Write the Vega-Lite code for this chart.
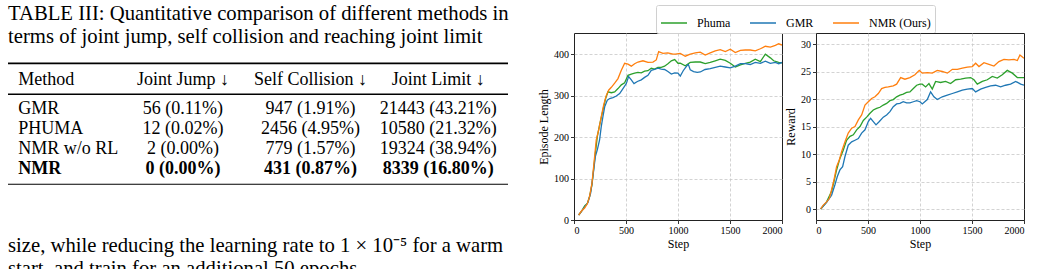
{
  "$schema": "https://vega.github.io/schema/vega-lite/v6.json",
  "background": "white",
  "padding": {"left": 7, "top": 0, "right": 0, "bottom": 0},
  "config": {
    "font": "Liberation Serif",
    "view": {"stroke": "#222222", "strokeWidth": 1},
    "axis": {
      "domain": false,
      "grid": true,
      "gridColor": "#c8c8c8",
      "gridDash": [3, 2],
      "gridWidth": 0.8,
      "ticks": true,
      "tickSize": 3.5,
      "tickColor": "#000000",
      "tickWidth": 0.8,
      "labelFont": "Liberation Serif",
      "labelFontSize": 10,
      "labelColor": "#000000",
      "labelPadding": 2,
      "titleFont": "Liberation Serif",
      "titleFontSize": 12,
      "titleFontWeight": "normal",
      "titleColor": "#000000",
      "titlePadding": 3
    }
  },
  "datasets": {
    "table": [
      {"method": "GMR", "row": 1, "jump": "56 (0.11%)", "collision": "947 (1.91%)", "limit": "21443 (43.21%)"},
      {"method": "PHUMA", "row": 2, "jump": "12 (0.02%)", "collision": "2456 (4.95%)", "limit": "10580 (21.32%)"},
      {"method": "NMR w/o RL", "row": 3, "jump": "2 (0.00%)", "collision": "779 (1.57%)", "limit": "19324 (38.94%)"},
      {"method": "NMR", "row": 4, "jump": "0 (0.00%)", "collision": "431 (0.87%)", "limit": "8339 (16.80%)"}
    ],
    "header": [
      {"col": "method", "label": "Method"},
      {"col": "jump", "label": "Joint Jump ↓"},
      {"col": "collision", "label": "Self Collision ↓"},
      {"col": "limit", "label": "Joint Limit ↓"}
    ],
    "rules": [
      {"rule": "top", "row": -1.55},
      {"rule": "mid", "row": 0},
      {"rule": "bottom", "row": 4.5}
    ],
    "prose": [
      {"row": -3.715, "text": "TABLE III: Quantitative comparison of different methods in"},
      {"row": -2.55, "text": "terms of joint jump, self collision and reaching joint limit"},
      {"row": 7.87, "text": "size, while reducing the learning rate to 1 × 10⁻⁵ for a warm"},
      {"row": 9.035, "text": "start, and train for an additional 50 epochs."}
    ],
    "episode": [
      {"method": "Phuma", "step": 45, "length": 12}, {"method": "Phuma", "step": 70, "length": 20}, {"method": "Phuma", "step": 102, "length": 34},
      {"method": "Phuma", "step": 128, "length": 40}, {"method": "Phuma", "step": 150, "length": 57}, {"method": "Phuma", "step": 173, "length": 85},
      {"method": "Phuma", "step": 198, "length": 145}, {"method": "Phuma", "step": 224, "length": 201}, {"method": "Phuma", "step": 246, "length": 229},
      {"method": "Phuma", "step": 278, "length": 265}, {"method": "Phuma", "step": 304, "length": 293}, {"method": "Phuma", "step": 327, "length": 309},
      {"method": "Phuma", "step": 359, "length": 307}, {"method": "Phuma", "step": 391, "length": 309}, {"method": "Phuma", "step": 423, "length": 317},
      {"method": "Phuma", "step": 455, "length": 326}, {"method": "Phuma", "step": 487, "length": 331}, {"method": "Phuma", "step": 519, "length": 349},
      {"method": "Phuma", "step": 551, "length": 352}, {"method": "Phuma", "step": 583, "length": 354}, {"method": "Phuma", "step": 615, "length": 356},
      {"method": "Phuma", "step": 647, "length": 355}, {"method": "Phuma", "step": 679, "length": 359}, {"method": "Phuma", "step": 711, "length": 360},
      {"method": "Phuma", "step": 743, "length": 366}, {"method": "Phuma", "step": 775, "length": 364}, {"method": "Phuma", "step": 807, "length": 368},
      {"method": "Phuma", "step": 839, "length": 368}, {"method": "Phuma", "step": 871, "length": 371}, {"method": "Phuma", "step": 903, "length": 377},
      {"method": "Phuma", "step": 936, "length": 384}, {"method": "Phuma", "step": 968, "length": 387}, {"method": "Phuma", "step": 1000, "length": 378},
      {"method": "Phuma", "step": 1022, "length": 378}, {"method": "Phuma", "step": 1070, "length": 372}, {"method": "Phuma", "step": 1118, "length": 380},
      {"method": "Phuma", "step": 1166, "length": 381}, {"method": "Phuma", "step": 1214, "length": 381}, {"method": "Phuma", "step": 1262, "length": 377},
      {"method": "Phuma", "step": 1310, "length": 380}, {"method": "Phuma", "step": 1358, "length": 384}, {"method": "Phuma", "step": 1406, "length": 388},
      {"method": "Phuma", "step": 1455, "length": 385}, {"method": "Phuma", "step": 1503, "length": 378}, {"method": "Phuma", "step": 1551, "length": 369},
      {"method": "Phuma", "step": 1600, "length": 374}, {"method": "Phuma", "step": 1647, "length": 378}, {"method": "Phuma", "step": 1695, "length": 381},
      {"method": "Phuma", "step": 1743, "length": 388}, {"method": "Phuma", "step": 1792, "length": 382}, {"method": "Phuma", "step": 1840, "length": 400},
      {"method": "Phuma", "step": 1888, "length": 391}, {"method": "Phuma", "step": 1920, "length": 384}, {"method": "Phuma", "step": 1968, "length": 380},
      {"method": "Phuma", "step": 2000, "length": 379},
      {"method": "GMR", "step": 45, "length": 12}, {"method": "GMR", "step": 70, "length": 20}, {"method": "GMR", "step": 102, "length": 31},
      {"method": "GMR", "step": 134, "length": 42}, {"method": "GMR", "step": 160, "length": 65}, {"method": "GMR", "step": 182, "length": 105},
      {"method": "GMR", "step": 205, "length": 153}, {"method": "GMR", "step": 224, "length": 169}, {"method": "GMR", "step": 246, "length": 193},
      {"method": "GMR", "step": 262, "length": 225}, {"method": "GMR", "step": 278, "length": 249}, {"method": "GMR", "step": 295, "length": 273},
      {"method": "GMR", "step": 320, "length": 289}, {"method": "GMR", "step": 343, "length": 293}, {"method": "GMR", "step": 375, "length": 295},
      {"method": "GMR", "step": 407, "length": 299}, {"method": "GMR", "step": 439, "length": 305}, {"method": "GMR", "step": 471, "length": 317},
      {"method": "GMR", "step": 503, "length": 329}, {"method": "GMR", "step": 525, "length": 346}, {"method": "GMR", "step": 551, "length": 338},
      {"method": "GMR", "step": 577, "length": 329}, {"method": "GMR", "step": 609, "length": 334}, {"method": "GMR", "step": 647, "length": 338},
      {"method": "GMR", "step": 679, "length": 344}, {"method": "GMR", "step": 711, "length": 349}, {"method": "GMR", "step": 743, "length": 361},
      {"method": "GMR", "step": 775, "length": 363}, {"method": "GMR", "step": 807, "length": 366}, {"method": "GMR", "step": 839, "length": 364},
      {"method": "GMR", "step": 871, "length": 363}, {"method": "GMR", "step": 903, "length": 358}, {"method": "GMR", "step": 936, "length": 352},
      {"method": "GMR", "step": 968, "length": 355}, {"method": "GMR", "step": 1000, "length": 354}, {"method": "GMR", "step": 1022, "length": 347},
      {"method": "GMR", "step": 1050, "length": 360}, {"method": "GMR", "step": 1085, "length": 372}, {"method": "GMR", "step": 1100, "length": 375},
      {"method": "GMR", "step": 1118, "length": 362}, {"method": "GMR", "step": 1150, "length": 358}, {"method": "GMR", "step": 1185, "length": 356},
      {"method": "GMR", "step": 1215, "length": 357}, {"method": "GMR", "step": 1260, "length": 363}, {"method": "GMR", "step": 1310, "length": 365},
      {"method": "GMR", "step": 1358, "length": 368}, {"method": "GMR", "step": 1406, "length": 371}, {"method": "GMR", "step": 1455, "length": 369},
      {"method": "GMR", "step": 1503, "length": 367}, {"method": "GMR", "step": 1551, "length": 371}, {"method": "GMR", "step": 1600, "length": 377},
      {"method": "GMR", "step": 1647, "length": 377}, {"method": "GMR", "step": 1695, "length": 375}, {"method": "GMR", "step": 1743, "length": 380},
      {"method": "GMR", "step": 1792, "length": 378}, {"method": "GMR", "step": 1840, "length": 383}, {"method": "GMR", "step": 1888, "length": 378},
      {"method": "GMR", "step": 1936, "length": 380}, {"method": "GMR", "step": 1968, "length": 377}, {"method": "GMR", "step": 2000, "length": 380},
      {"method": "NMR (Ours)", "step": 45, "length": 12}, {"method": "NMR (Ours)", "step": 70, "length": 21}, {"method": "NMR (Ours)", "step": 102, "length": 29},
      {"method": "NMR (Ours)", "step": 128, "length": 39}, {"method": "NMR (Ours)", "step": 150, "length": 57}, {"method": "NMR (Ours)", "step": 173, "length": 89},
      {"method": "NMR (Ours)", "step": 192, "length": 137}, {"method": "NMR (Ours)", "step": 214, "length": 193}, {"method": "NMR (Ours)", "step": 237, "length": 217},
      {"method": "NMR (Ours)", "step": 262, "length": 249}, {"method": "NMR (Ours)", "step": 285, "length": 277}, {"method": "NMR (Ours)", "step": 310, "length": 300},
      {"method": "NMR (Ours)", "step": 333, "length": 313}, {"method": "NMR (Ours)", "step": 359, "length": 320}, {"method": "NMR (Ours)", "step": 391, "length": 330},
      {"method": "NMR (Ours)", "step": 423, "length": 341}, {"method": "NMR (Ours)", "step": 455, "length": 361}, {"method": "NMR (Ours)", "step": 487, "length": 378},
      {"method": "NMR (Ours)", "step": 519, "length": 376}, {"method": "NMR (Ours)", "step": 551, "length": 371}, {"method": "NMR (Ours)", "step": 583, "length": 377},
      {"method": "NMR (Ours)", "step": 615, "length": 381}, {"method": "NMR (Ours)", "step": 663, "length": 384}, {"method": "NMR (Ours)", "step": 711, "length": 380},
      {"method": "NMR (Ours)", "step": 759, "length": 381}, {"method": "NMR (Ours)", "step": 791, "length": 386}, {"method": "NMR (Ours)", "step": 814, "length": 406},
      {"method": "NMR (Ours)", "step": 855, "length": 402}, {"method": "NMR (Ours)", "step": 903, "length": 403}, {"method": "NMR (Ours)", "step": 951, "length": 400},
      {"method": "NMR (Ours)", "step": 974, "length": 400}, {"method": "NMR (Ours)", "step": 1022, "length": 402}, {"method": "NMR (Ours)", "step": 1070, "length": 395},
      {"method": "NMR (Ours)", "step": 1118, "length": 400}, {"method": "NMR (Ours)", "step": 1166, "length": 403}, {"method": "NMR (Ours)", "step": 1214, "length": 405},
      {"method": "NMR (Ours)", "step": 1262, "length": 398}, {"method": "NMR (Ours)", "step": 1310, "length": 403}, {"method": "NMR (Ours)", "step": 1358, "length": 408},
      {"method": "NMR (Ours)", "step": 1406, "length": 411}, {"method": "NMR (Ours)", "step": 1455, "length": 406}, {"method": "NMR (Ours)", "step": 1503, "length": 412},
      {"method": "NMR (Ours)", "step": 1551, "length": 404}, {"method": "NMR (Ours)", "step": 1600, "length": 409}, {"method": "NMR (Ours)", "step": 1647, "length": 410},
      {"method": "NMR (Ours)", "step": 1695, "length": 410}, {"method": "NMR (Ours)", "step": 1743, "length": 408}, {"method": "NMR (Ours)", "step": 1792, "length": 413},
      {"method": "NMR (Ours)", "step": 1840, "length": 419}, {"method": "NMR (Ours)", "step": 1888, "length": 417}, {"method": "NMR (Ours)", "step": 1936, "length": 421},
      {"method": "NMR (Ours)", "step": 1968, "length": 425}, {"method": "NMR (Ours)", "step": 2000, "length": 422}
    ],
    "reward": [
      {"method": "Phuma", "step": 45, "reward": 0}, {"method": "Phuma", "step": 102, "reward": 1.3}, {"method": "Phuma", "step": 150, "reward": 3.2},
      {"method": "Phuma", "step": 173, "reward": 5.0}, {"method": "Phuma", "step": 198, "reward": 7.1}, {"method": "Phuma", "step": 230, "reward": 9.2},
      {"method": "Phuma", "step": 262, "reward": 10.7}, {"method": "Phuma", "step": 294, "reward": 12.5}, {"method": "Phuma", "step": 327, "reward": 13.2},
      {"method": "Phuma", "step": 359, "reward": 13.5}, {"method": "Phuma", "step": 391, "reward": 14.4}, {"method": "Phuma", "step": 423, "reward": 15.0},
      {"method": "Phuma", "step": 455, "reward": 16.1}, {"method": "Phuma", "step": 487, "reward": 16.7}, {"method": "Phuma", "step": 519, "reward": 17.4},
      {"method": "Phuma", "step": 551, "reward": 18.0}, {"method": "Phuma", "step": 583, "reward": 18.3}, {"method": "Phuma", "step": 615, "reward": 18.5},
      {"method": "Phuma", "step": 647, "reward": 18.9}, {"method": "Phuma", "step": 679, "reward": 19.2}, {"method": "Phuma", "step": 711, "reward": 19.7},
      {"method": "Phuma", "step": 743, "reward": 19.9}, {"method": "Phuma", "step": 775, "reward": 20.4}, {"method": "Phuma", "step": 807, "reward": 20.7},
      {"method": "Phuma", "step": 839, "reward": 20.9}, {"method": "Phuma", "step": 871, "reward": 21.2}, {"method": "Phuma", "step": 903, "reward": 21.3},
      {"method": "Phuma", "step": 936, "reward": 21.9}, {"method": "Phuma", "step": 968, "reward": 22.5}, {"method": "Phuma", "step": 1000, "reward": 22.7},
      {"method": "Phuma", "step": 1022, "reward": 22.7}, {"method": "Phuma", "step": 1054, "reward": 22.2}, {"method": "Phuma", "step": 1086, "reward": 22.8},
      {"method": "Phuma", "step": 1118, "reward": 21.8}, {"method": "Phuma", "step": 1150, "reward": 23.2}, {"method": "Phuma", "step": 1198, "reward": 23.0},
      {"method": "Phuma", "step": 1246, "reward": 23.2}, {"method": "Phuma", "step": 1294, "reward": 22.8}, {"method": "Phuma", "step": 1343, "reward": 23.5},
      {"method": "Phuma", "step": 1391, "reward": 23.6}, {"method": "Phuma", "step": 1439, "reward": 23.8}, {"method": "Phuma", "step": 1487, "reward": 23.9},
      {"method": "Phuma", "step": 1519, "reward": 23.5}, {"method": "Phuma", "step": 1551, "reward": 22.7}, {"method": "Phuma", "step": 1599, "reward": 23.2},
      {"method": "Phuma", "step": 1647, "reward": 23.5}, {"method": "Phuma", "step": 1695, "reward": 24.1}, {"method": "Phuma", "step": 1743, "reward": 23.8},
      {"method": "Phuma", "step": 1791, "reward": 24.4}, {"method": "Phuma", "step": 1839, "reward": 25.2}, {"method": "Phuma", "step": 1888, "reward": 24.7},
      {"method": "Phuma", "step": 1936, "reward": 23.9}, {"method": "Phuma", "step": 2000, "reward": 23.9},
      {"method": "GMR", "step": 45, "reward": 0}, {"method": "GMR", "step": 102, "reward": 1.2}, {"method": "GMR", "step": 150, "reward": 2.5},
      {"method": "GMR", "step": 182, "reward": 4.4}, {"method": "GMR", "step": 205, "reward": 5.9}, {"method": "GMR", "step": 230, "reward": 7.1},
      {"method": "GMR", "step": 256, "reward": 7.7}, {"method": "GMR", "step": 278, "reward": 9.5}, {"method": "GMR", "step": 310, "reward": 11.6},
      {"method": "GMR", "step": 343, "reward": 12.2}, {"method": "GMR", "step": 375, "reward": 12.5}, {"method": "GMR", "step": 407, "reward": 12.8},
      {"method": "GMR", "step": 439, "reward": 13.8}, {"method": "GMR", "step": 471, "reward": 14.4}, {"method": "GMR", "step": 503, "reward": 15.9},
      {"method": "GMR", "step": 525, "reward": 16.5}, {"method": "GMR", "step": 551, "reward": 15.9}, {"method": "GMR", "step": 577, "reward": 15.3},
      {"method": "GMR", "step": 609, "reward": 15.9}, {"method": "GMR", "step": 647, "reward": 16.7}, {"method": "GMR", "step": 679, "reward": 17.1},
      {"method": "GMR", "step": 711, "reward": 17.7}, {"method": "GMR", "step": 743, "reward": 18.6}, {"method": "GMR", "step": 775, "reward": 19.1},
      {"method": "GMR", "step": 807, "reward": 19.2}, {"method": "GMR", "step": 839, "reward": 19.5}, {"method": "GMR", "step": 871, "reward": 19.3},
      {"method": "GMR", "step": 903, "reward": 19.3}, {"method": "GMR", "step": 936, "reward": 19.5}, {"method": "GMR", "step": 968, "reward": 19.7},
      {"method": "GMR", "step": 1000, "reward": 19.5}, {"method": "GMR", "step": 1022, "reward": 19.1}, {"method": "GMR", "step": 1070, "reward": 19.9},
      {"method": "GMR", "step": 1102, "reward": 21.3}, {"method": "GMR", "step": 1134, "reward": 20.4}, {"method": "GMR", "step": 1166, "reward": 19.9},
      {"method": "GMR", "step": 1214, "reward": 20.4}, {"method": "GMR", "step": 1263, "reward": 20.7}, {"method": "GMR", "step": 1311, "reward": 21.0},
      {"method": "GMR", "step": 1359, "reward": 21.3}, {"method": "GMR", "step": 1407, "reward": 21.6}, {"method": "GMR", "step": 1455, "reward": 21.8},
      {"method": "GMR", "step": 1503, "reward": 21.9}, {"method": "GMR", "step": 1535, "reward": 21.3}, {"method": "GMR", "step": 1583, "reward": 21.8},
      {"method": "GMR", "step": 1631, "reward": 22.1}, {"method": "GMR", "step": 1679, "reward": 22.4}, {"method": "GMR", "step": 1727, "reward": 22.5},
      {"method": "GMR", "step": 1775, "reward": 22.2}, {"method": "GMR", "step": 1823, "reward": 22.5}, {"method": "GMR", "step": 1871, "reward": 22.7},
      {"method": "GMR", "step": 1920, "reward": 23.2}, {"method": "GMR", "step": 1968, "reward": 22.7}, {"method": "GMR", "step": 2000, "reward": 22.5},
      {"method": "NMR (Ours)", "step": 45, "reward": 0}, {"method": "NMR (Ours)", "step": 70, "reward": 0.7}, {"method": "NMR (Ours)", "step": 102, "reward": 1.3},
      {"method": "NMR (Ours)", "step": 128, "reward": 1.9}, {"method": "NMR (Ours)", "step": 150, "reward": 3.5}, {"method": "NMR (Ours)", "step": 173, "reward": 5.3},
      {"method": "NMR (Ours)", "step": 198, "reward": 7.7}, {"method": "NMR (Ours)", "step": 224, "reward": 8.9}, {"method": "NMR (Ours)", "step": 246, "reward": 10.4},
      {"method": "NMR (Ours)", "step": 278, "reward": 12.2}, {"method": "NMR (Ours)", "step": 310, "reward": 13.8}, {"method": "NMR (Ours)", "step": 343, "reward": 14.7},
      {"method": "NMR (Ours)", "step": 375, "reward": 15.0}, {"method": "NMR (Ours)", "step": 407, "reward": 16.2}, {"method": "NMR (Ours)", "step": 439, "reward": 17.1},
      {"method": "NMR (Ours)", "step": 471, "reward": 18.9}, {"method": "NMR (Ours)", "step": 503, "reward": 19.5}, {"method": "NMR (Ours)", "step": 535, "reward": 20.1},
      {"method": "NMR (Ours)", "step": 567, "reward": 20.4}, {"method": "NMR (Ours)", "step": 599, "reward": 21.0}, {"method": "NMR (Ours)", "step": 631, "reward": 21.9},
      {"method": "NMR (Ours)", "step": 663, "reward": 22.1}, {"method": "NMR (Ours)", "step": 695, "reward": 22.2}, {"method": "NMR (Ours)", "step": 743, "reward": 22.4},
      {"method": "NMR (Ours)", "step": 775, "reward": 22.7}, {"method": "NMR (Ours)", "step": 814, "reward": 23.9}, {"method": "NMR (Ours)", "step": 855, "reward": 23.6},
      {"method": "NMR (Ours)", "step": 903, "reward": 23.9}, {"method": "NMR (Ours)", "step": 951, "reward": 24.4}, {"method": "NMR (Ours)", "step": 993, "reward": 25.2},
      {"method": "NMR (Ours)", "step": 1022, "reward": 24.7}, {"method": "NMR (Ours)", "step": 1070, "reward": 24.8}, {"method": "NMR (Ours)", "step": 1118, "reward": 24.7},
      {"method": "NMR (Ours)", "step": 1166, "reward": 25.2}, {"method": "NMR (Ours)", "step": 1214, "reward": 25.0}, {"method": "NMR (Ours)", "step": 1263, "reward": 24.7},
      {"method": "NMR (Ours)", "step": 1311, "reward": 25.4}, {"method": "NMR (Ours)", "step": 1359, "reward": 25.4}, {"method": "NMR (Ours)", "step": 1407, "reward": 25.6},
      {"method": "NMR (Ours)", "step": 1455, "reward": 25.8}, {"method": "NMR (Ours)", "step": 1503, "reward": 25.9}, {"method": "NMR (Ours)", "step": 1535, "reward": 26.5},
      {"method": "NMR (Ours)", "step": 1567, "reward": 25.9}, {"method": "NMR (Ours)", "step": 1615, "reward": 26.6}, {"method": "NMR (Ours)", "step": 1663, "reward": 26.3},
      {"method": "NMR (Ours)", "step": 1711, "reward": 26.0}, {"method": "NMR (Ours)", "step": 1759, "reward": 26.8}, {"method": "NMR (Ours)", "step": 1807, "reward": 27.2},
      {"method": "NMR (Ours)", "step": 1855, "reward": 27.1}, {"method": "NMR (Ours)", "step": 1904, "reward": 27.2}, {"method": "NMR (Ours)", "step": 1936, "reward": 27.0},
      {"method": "NMR (Ours)", "step": 1961, "reward": 28.0}, {"method": "NMR (Ours)", "step": 2000, "reward": 27.4}
    ]
  },
  "bounds": "flush",
  "spacing": 66,
  "hconcat": [
    {
      "width": 500,
      "height": 269,
      "view": {"stroke": null},
      "resolve": {"scale": {"x": "independent"}},
      "layer": [
        {
          "data": {"name": "prose"},
          "mark": {"type": "text", "align": "left", "baseline": "alphabetic", "fontSize": 20.7, "font": "Liberation Serif", "color": "#000000"},
          "encoding": {
            "x": {"datum": "page", "type": "nominal", "bandPosition": 0, "scale": {"type": "band", "domain": ["page"], "paddingInner": 0, "paddingOuter": 0, "align": 0}, "axis": null},
            "y": {"field": "row", "type": "quantitative", "scale": {"domain": [-4.715, 8.735], "reverse": true, "nice": false, "zero": false}, "axis": null},
            "text": {"field": "text"}
          }
        },
        {
          "data": {"name": "rules"},
          "mark": {"type": "rule", "color": "#000000"},
          "encoding": {
            "y": {"field": "row", "type": "quantitative"},
            "strokeWidth": {"field": "rule", "type": "nominal", "scale": {"domain": ["top", "mid", "bottom"], "range": [1.8, 1.1, 1.8]}, "legend": null}
          }
        },
        {
          "data": {"name": "header"},
          "transform": [{"filter": "datum.col === 'method'"}],
          "mark": {"type": "text", "align": "left", "baseline": "alphabetic", "fontSize": 18, "font": "Liberation Serif", "color": "#000000"},
          "encoding": {
            "x": {"field": "col", "type": "nominal", "bandPosition": 0, "scale": {"type": "band", "domain": ["method", "jump", "collision", "limit"], "paddingInner": 0.421, "paddingOuter": 0.169, "align": 0.239}, "axis": null},
            "y": {"datum": -0.47, "type": "quantitative"},
            "text": {"field": "label"}
          }
        },
        {
          "data": {"name": "header"},
          "transform": [{"filter": "datum.col !== 'method'"}],
          "mark": {"type": "text", "align": "center", "baseline": "alphabetic", "fontSize": 18, "font": "Liberation Serif", "color": "#000000"},
          "encoding": {
            "x": {"field": "col", "type": "nominal", "bandPosition": 0.5, "scale": {"type": "band", "domain": ["method", "jump", "collision", "limit"], "paddingInner": 0.421, "paddingOuter": 0.169, "align": 0.239}, "axis": null},
            "y": {"datum": -0.47, "type": "quantitative"},
            "text": {"field": "label"}
          }
        },
        {
          "data": {"name": "table"},
          "transform": [{"filter": "datum.method !== 'NMR'"}],
          "mark": {"type": "text", "align": "left", "baseline": "alphabetic", "fontSize": 18, "font": "Liberation Serif", "color": "#000000"},
          "encoding": {
            "x": {"datum": "method", "type": "nominal", "bandPosition": 0, "scale": {"type": "band", "domain": ["method", "jump", "collision", "limit"], "paddingInner": 0.421, "paddingOuter": 0.169, "align": 0.239}, "axis": null},
            "y": {"field": "row", "type": "quantitative"},
            "text": {"field": "method"}
          }
        },
        {
          "data": {"name": "table"},
          "transform": [{"filter": "datum.method === 'NMR'"}],
          "mark": {"type": "text", "align": "left", "baseline": "alphabetic", "fontSize": 18, "font": "Liberation Serif", "fontWeight": "bold", "color": "#000000"},
          "encoding": {
            "x": {"datum": "method", "type": "nominal", "bandPosition": 0, "scale": {"type": "band", "domain": ["method", "jump", "collision", "limit"], "paddingInner": 0.421, "paddingOuter": 0.169, "align": 0.239}, "axis": null},
            "y": {"field": "row", "type": "quantitative"},
            "text": {"field": "method"}
          }
        },
        {
          "data": {"name": "table"},
          "transform": [
            {"filter": "datum.method !== 'NMR'"},
            {"fold": ["jump", "collision", "limit"], "as": ["col", "cell"]}
          ],
          "mark": {"type": "text", "align": "center", "baseline": "alphabetic", "fontSize": 18, "font": "Liberation Serif", "color": "#000000"},
          "encoding": {
            "x": {"field": "col", "type": "nominal", "bandPosition": 0.5, "scale": {"type": "band", "domain": ["method", "jump", "collision", "limit"], "paddingInner": 0.421, "paddingOuter": 0.169, "align": 0.239}, "axis": null},
            "y": {"field": "row", "type": "quantitative"},
            "text": {"field": "cell"}
          }
        },
        {
          "data": {"name": "table"},
          "transform": [
            {"filter": "datum.method === 'NMR'"},
            {"fold": ["jump", "collision", "limit"], "as": ["col", "cell"]}
          ],
          "mark": {"type": "text", "align": "center", "baseline": "alphabetic", "fontSize": 18, "font": "Liberation Serif", "fontWeight": "bold", "color": "#000000"},
          "encoding": {
            "x": {"field": "col", "type": "nominal", "bandPosition": 0.5, "scale": {"type": "band", "domain": ["method", "jump", "collision", "limit"], "paddingInner": 0.421, "paddingOuter": 0.169, "align": 0.239}, "axis": null},
            "y": {"field": "row", "type": "quantitative"},
            "text": {"field": "cell"}
          }
        }
      ]
    },
    {
      "bounds": "flush",
      "spacing": 0,
      "vconcat": [
        {
          "width": 10,
          "height": 33,
          "view": {"stroke": null},
          "data": {"values": []},
          "mark": "point"
        },
        {
          "bounds": "flush",
          "spacing": 34,
          "resolve": {"legend": {"color": "independent"}},
          "hconcat": [
            {
              "width": 208,
              "height": 187,
              "data": {"name": "episode"},
              "mark": {"type": "line", "strokeWidth": 1.3, "clip": true},
              "encoding": {
                "x": {
                  "field": "step", "type": "quantitative", "scale": {"domain": [0, 2000], "nice": false},
                  "axis": {"values": [0, 500, 1000, 1500, 2000], "format": "d", "title": "Step",
                           "gridOpacity": {"condition": {"test": "datum.value === 0 || datum.value === 2000", "value": 0}, "value": 1}}
                },
                "y": {
                  "field": "length", "type": "quantitative", "scale": {"domain": [0, 451], "nice": false, "zero": false},
                  "axis": {"values": [0, 100, 200, 300, 400], "format": "d", "title": "Episode Length",
                           "gridOpacity": {"condition": {"test": "datum.value === 0", "value": 0}, "value": 1}}
                },
                "color": {
                  "field": "method",
                  "type": "nominal",
                  "scale": {"domain": ["Phuma", "GMR", "NMR (Ours)"], "range": ["#2ca02c", "#1f77b4", "#ff7f0e"]},
                  "legend": {
                    "orient": "none",
                    "legendX": 82,
                    "legendY": -28,
                    "direction": "horizontal",
                    "title": null,
                    "symbolType": "stroke",
                    "symbolSize": 676,
                    "symbolStrokeWidth": 1.5,
                    "labelFont": "Liberation Serif",
                    "labelFontSize": 12,
                    "labelColor": "#000000",
                    "labelOffset": 9,
                    "columnPadding": 16,
                    "padding": 4,
                    "strokeColor": "#d0d0d0",
                    "fillColor": "#ffffff",
                    "cornerRadius": 2
                  }
                }
              }
            },
            {
              "width": 208,
              "height": 187,
              "data": {"name": "reward"},
              "mark": {"type": "line", "strokeWidth": 1.3, "clip": true},
              "encoding": {
                "x": {
                  "field": "step", "type": "quantitative", "scale": {"domain": [0, 2000], "nice": false},
                  "axis": {"values": [0, 500, 1000, 1500, 2000], "format": "d", "title": "Step",
                           "gridOpacity": {"condition": {"test": "datum.value === 0 || datum.value === 2000", "value": 0}, "value": 1}}
                },
                "y": {"field": "reward", "type": "quantitative", "scale": {"domain": [-2, 32], "nice": false, "zero": false}, "axis": {"values": [0, 5, 10, 15, 20, 25, 30], "format": "d", "title": "Reward"}},
                "color": {
                  "field": "method",
                  "type": "nominal",
                  "scale": {"domain": ["Phuma", "GMR", "NMR (Ours)"], "range": ["#2ca02c", "#1f77b4", "#ff7f0e"]},
                  "legend": null
                }
              }
            }
          ]
        }
      ]
    }
  ]
}
